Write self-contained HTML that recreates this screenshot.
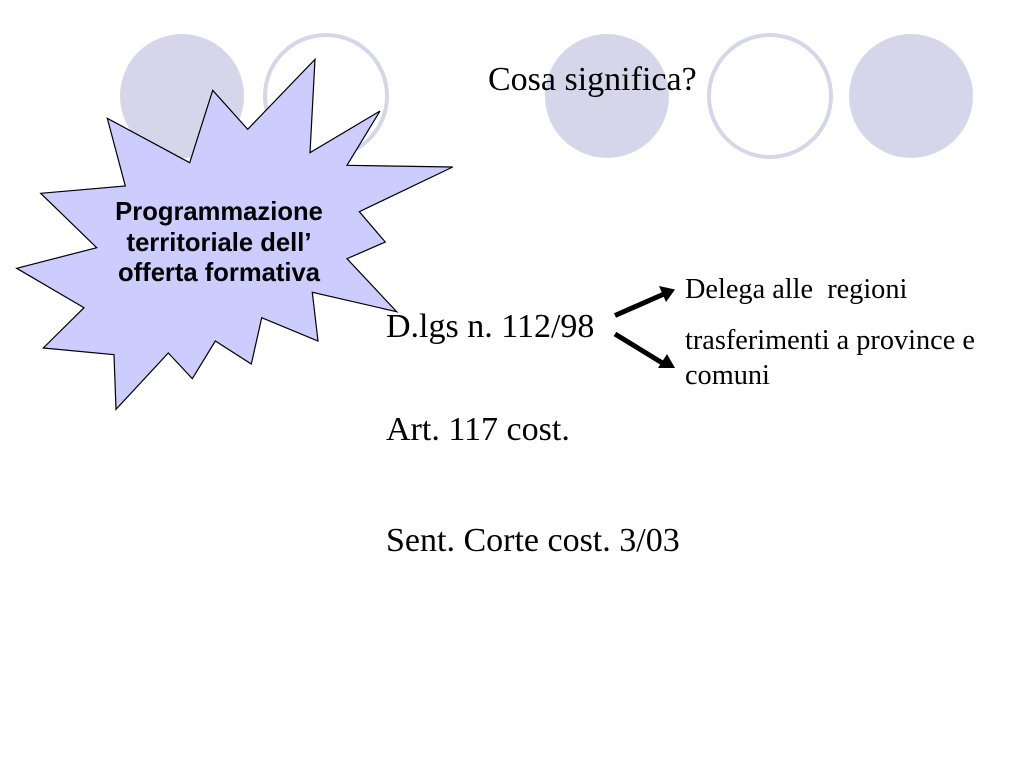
<!DOCTYPE html>
<html><head><meta charset="utf-8"><style>
html,body{margin:0;padding:0;background:#fff}
svg{display:block}
.t{font-family:"Liberation Serif",serif;fill:#000}
.b{font-family:"Liberation Sans",sans-serif;font-weight:700;font-size:25.6px;fill:#000;text-anchor:middle}
</style></head><body>
<svg width="1024" height="768" viewBox="0 0 1024 768" xmlns="http://www.w3.org/2000/svg">
<rect width="1024" height="768" fill="#fff"/>
<circle cx="182" cy="96" r="62" fill="#d6d6ea"/>
<circle cx="326" cy="96" r="61" fill="#fff" stroke="#d6d6ea" stroke-width="4"/>
<circle cx="607" cy="96" r="62" fill="#d6d6ea"/>
<circle cx="770" cy="96" r="61" fill="#fff" stroke="#d6d6ea" stroke-width="4"/>
<circle cx="911" cy="96" r="62" fill="#d6d6ea"/>
<text class="t" x="488" y="90" font-size="34">Cosa significa?</text>
<text class="t" x="386" y="337" font-size="34">D.lgs n. 112/98</text>
<text class="t" x="386" y="440" font-size="34">Art. 117 cost.</text>
<text class="t" x="386" y="551" font-size="34">Sent. Corte cost. 3/03</text>
<text class="t" x="685" y="298" font-size="28.3" xml:space="preserve">Delega alle  regioni</text>
<text class="t" x="685" y="349" font-size="28.3">trasferimenti a province e</text>
<text class="t" x="685" y="384" font-size="28.3">comuni</text>
<polygon points="315,59.3 310,152.7 380,111 347,165.3 452.7,167 359.3,211.7 385.3,242 347,258.7 396.7,311.7 312.3,292.3 318,341 261.7,317.7 251.3,364 215.3,341 192.3,378.7 168.3,353 116,409.3 114,354.7 43.3,348 84,307.7 16.7,268.3 96.7,247.7 40.7,193.3 125.3,186 107.3,118.3 189.7,162.7 212.7,90.3 247.7,129.3" fill="#ccccff" stroke="#000" stroke-width="1.2" stroke-linejoin="miter"/>
<text class="b" x="219" y="220">Programmazione</text>
<text class="b" x="219" y="251">territoriale dell’</text>
<text class="b" x="219" y="281">offerta formativa</text>
<line x1="615" y1="315.5" x2="664" y2="294" stroke="#000" stroke-width="5"/>
<polygon points="675,289.5 659,286 666,302" fill="#000"/>
<line x1="615" y1="334" x2="664" y2="364" stroke="#000" stroke-width="5"/>
<polygon points="675,368 667,354 658,368" fill="#000"/>
</svg>
</body></html>
